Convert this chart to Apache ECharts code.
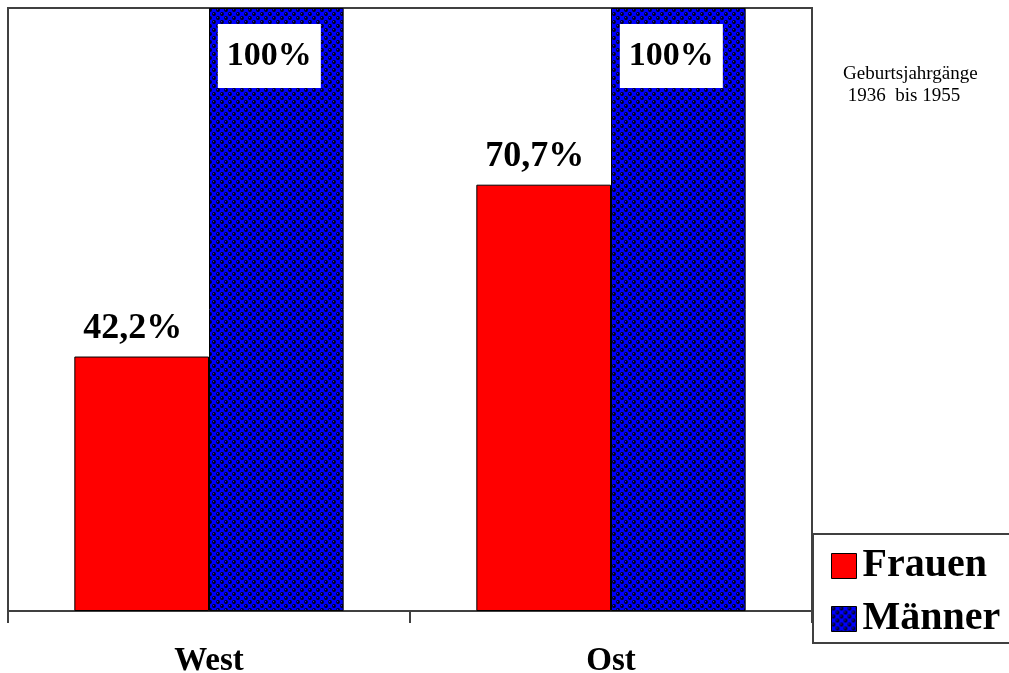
<!DOCTYPE html>
<html>
<head>
<meta charset="utf-8">
<script src="https://cdn.jsdelivr.net/npm/echarts@6/dist/echarts.min.js"></script>
<style>
  html, body { margin: 0; padding: 0; background: #ffffff; }
  #chart { width: 1009px; height: 673px; }
</style>
</head>
<body>
<div id="chart"></div>
<script>
// Regions and shares (percent)
const categories = ['West', 'Ost'];
const seriesNames = ['Frauen', 'Männer'];
const frauen = [42.2, 70.7];
const maenner = [100, 100];
const noteLines = ['Geburtsjahrgänge', ' 1936  bis 1955'];

const SERIF = '"Liberation Serif", "Times New Roman", serif';

// Blue fill with dark dotted checker texture for the second series
function dotPattern() {
  const c = document.createElement('canvas');
  c.width = 8; c.height = 8;
  const g = c.getContext('2d');
  g.fillStyle = '#0000ff';
  g.fillRect(0, 0, 8, 8);
  g.fillStyle = '#000010';
  [[2, 2], [6, 6]].forEach(([x, y]) => {
    g.beginPath(); g.arc(x, y, 1.9, 0, Math.PI * 2); g.fill();
  });
  g.fillStyle = '#3030ff';
  [[1.6, 1.6], [5.6, 5.6]].forEach(([x, y]) => {
    g.beginPath(); g.arc(x, y, 0.6, 0, Math.PI * 2); g.fill();
  });
  return c;
}

function pct(v) {
  return Number.isInteger(v) ? v + '%' : v.toFixed(1).replace('.', ',') + '%';
}

const chart = echarts.init(document.getElementById('chart'), null, { renderer: 'canvas' });

chart.setOption({
  animation: false,
  backgroundColor: '#ffffff',
  grid: {
    left: 8, right: 197, top: 8, bottom: 62,
    outerBoundsMode: 'none', containLabel: false,
    show: true, borderColor: '#404040', borderWidth: 2, backgroundColor: 'transparent'
  },
  legend: {
    orient: 'vertical',
    left: 826, top: 541,
    icon: 'rect',
    itemWidth: 25, itemHeight: 25, itemGap: 13,
    data: seriesNames,
    textStyle: {
      fontFamily: SERIF, fontWeight: 'bold', fontSize: 40, color: '#000',
      padding: [0, 0, 0, 1]
    },
    itemStyle: { borderColor: '#000', borderWidth: 1 }
  },
  xAxis: {
    type: 'category',
    data: categories,
    boundaryGap: true,
    axisLine: { show: true, lineStyle: { color: '#404040', width: 2 } },
    axisTick: { show: true, length: 12, lineStyle: { color: '#404040', width: 2 } },
    axisLabel: {
      fontFamily: SERIF, fontWeight: 'bold', fontSize: 33, color: '#000', margin: 34
    }
  },
  yAxis: {
    type: 'value', min: 0, max: 100, show: false,
    splitLine: { show: false }
  },
  graphic: [
    {
      type: 'rect', silent: true,
      shape: { x: 813, y: 534, width: 210, height: 109 },
      style: { fill: 'transparent', stroke: '#404040', lineWidth: 2 }
    },
    {
      type: 'text', left: 843, top: 63, silent: true,
      style: {
        text: noteLines.join('\n'), fontFamily: SERIF, fontSize: 19,
        lineHeight: 22, fill: '#000'
      }
    }
  ],
  series: [
    {
      name: seriesNames[0], type: 'bar', data: frauen,
      barGap: '0%', barCategoryGap: '33%',
      itemStyle: { color: '#ff0000', borderColor: '#000', borderWidth: 1 },
      label: {
        show: true, position: 'top', distance: 10, offset: [-9, 0],
        fontFamily: SERIF, fontWeight: 'bold', fontSize: 36, color: '#000',
        formatter: p => pct(p.value)
      }
    },
    {
      name: seriesNames[1], type: 'bar', data: maenner,
      itemStyle: { color: { image: dotPattern(), repeat: 'repeat' }, borderColor: '#000', borderWidth: 1 },
      label: {
        show: true, position: 'insideTop', distance: 16, offset: [-7, 0],
        fontFamily: SERIF, fontWeight: 'bold', fontSize: 34, color: '#000',
        backgroundColor: '#ffffff', padding: [15, 9, 15, 9], lineHeight: 34,
        formatter: p => pct(p.value)
      }
    }
  ]
});
</script>
</body>
</html>
